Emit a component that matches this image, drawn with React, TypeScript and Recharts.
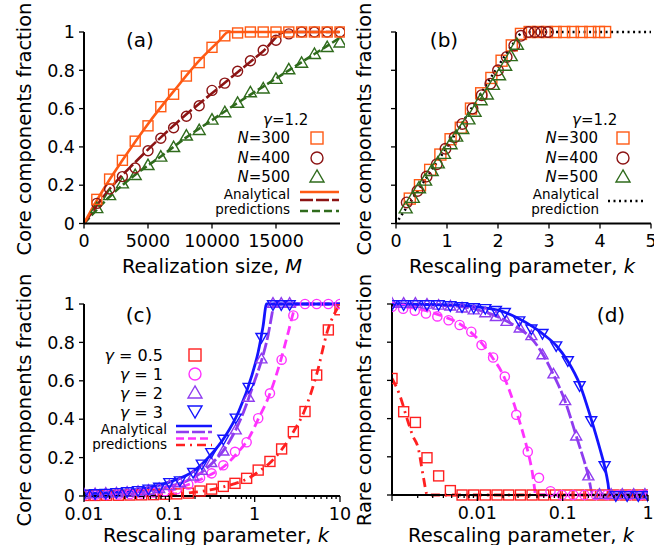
import React from 'react'
import { ComposedChart, Scatter, Line, XAxis, YAxis } from 'recharts'

const FONT = '"DejaVu Sans", sans-serif'

const C300 = '#ff5a14'
const C400 = '#8c1414'
const C500 = '#2f6b1c'
const CG05 = '#ff2020'
const CG1 = '#ff33ff'
const CG2 = '#8f3cf0'
const CG3 = '#1414ff'

// ---- panel (a): fraction vs realization size M
const M_SIZES = [1000, 2000, 3000, 4000, 5000, 6000, 7000, 8000, 9000, 10000, 11000, 12000, 13000, 14000, 15000, 16000, 17000, 18000, 19000, 20000]
const A_N300 = [0.126, 0.232, 0.33, 0.43, 0.51, 0.61, 0.675, 0.77, 0.84, 0.92, 0.98, 0.995, 1, 1, 1, 1, 1, 1, 1, 1]
const A_N400 = [0.105, 0.18, 0.245, 0.29, 0.38, 0.445, 0.5, 0.56, 0.615, 0.695, 0.733, 0.795, 0.85, 0.905, 0.957, 0.99, 1, 1, 1, 1]
const A_N500 = [0.075, 0.143, 0.204, 0.248, 0.3, 0.344, 0.394, 0.454, 0.483, 0.537, 0.576, 0.625, 0.68, 0.7, 0.75, 0.8, 0.834, 0.88, 0.916, 0.94]
const A_L300_M = [0, 1000, 2000, 3000, 5000, 7000, 9000, 10500, 11300, 20000]
const A_L300_V = [0, 0.12, 0.23, 0.33, 0.52, 0.69, 0.85, 0.95, 1, 1]
const A_L400_M = [0, 2000, 4000, 6000, 8000, 10000, 12000, 14000, 15700, 20000]
const A_L400_V = [0, 0.18, 0.32, 0.45, 0.57, 0.68, 0.79, 0.9, 1, 1]
const A_L500_M = [0, 2000, 4000, 6000, 8000, 10000, 12000, 14000, 16000, 18000, 20000]
const A_L500_V = [0, 0.14, 0.255, 0.35, 0.45, 0.54, 0.63, 0.715, 0.8, 0.885, 0.97]

// ---- panel (b): fraction vs rescaling parameter k
const B_N300_K = [0.27, 0.47, 0.67, 0.87, 1.07, 1.27, 1.47, 1.67, 1.87, 2.07, 2.27, 2.45, 2.62, 2.79, 2.96, 3.13, 3.3, 3.47, 3.64, 3.81, 3.98, 4.1]
const B_N300_V = [0.13, 0.2, 0.28, 0.36, 0.44, 0.5, 0.6, 0.68, 0.76, 0.85, 0.93, 0.99, 1, 1, 1, 1, 1, 1, 1, 1, 1, 1]
const B_N400_K = [0.21, 0.42, 0.6, 0.8, 0.97, 1.15, 1.3, 1.5, 1.68, 1.85, 2.0, 2.17, 2.32, 2.45, 2.6, 2.72, 2.85, 2.98]
const B_N400_V = [0.11, 0.17, 0.245, 0.31, 0.39, 0.45, 0.52, 0.6, 0.67, 0.73, 0.8, 0.87, 0.93, 0.98, 1, 1, 1, 1]
const B_N500_K = [0.19, 0.33, 0.45, 0.57, 0.7, 0.82, 0.94, 1.07, 1.18, 1.3, 1.42, 1.54, 1.66, 1.78, 1.9, 2.02, 2.14, 2.25, 2.37]
const B_N500_V = [0.075, 0.13, 0.18, 0.22, 0.27, 0.31, 0.36, 0.41, 0.45, 0.49, 0.54, 0.58, 0.64, 0.67, 0.72, 0.77, 0.82, 0.87, 0.93]
const B_PRED_K = [0.05, 0.5, 1, 1.5, 2, 2.3, 2.5, 5]
const B_PRED_V = [0.02, 0.2, 0.4, 0.61, 0.82, 0.94, 1, 1]

// ---- panel (c): core fraction vs k, log axis
const C_K = [0.01, 0.0135, 0.0184, 0.0253, 0.0346, 0.0474, 0.065, 0.089, 0.122, 0.167, 0.229, 0.313, 0.429, 0.588, 0.805, 1.1, 1.51, 2.07, 2.84, 3.89, 5.33, 7.3, 10]
const C_G05 = [0.003, 0.003, 0.004, 0.004, 0.005, 0.006, 0.007, 0.009, 0.011, 0.015, 0.026, 0.036, 0.05, 0.066, 0.092, 0.135, 0.18, 0.245, 0.335, 0.44, 0.63, 0.865, 0.97]
const C_G1 = [0.004, 0.005, 0.006, 0.008, 0.01, 0.013, 0.018, 0.025, 0.035, 0.06, 0.095, 0.118, 0.16, 0.23, 0.28, 0.405, 0.535, 0.71, 0.94, 1, 1, 1, 1]
const C_K23 = [0.01, 0.0135, 0.018, 0.024, 0.032, 0.043, 0.057, 0.076, 0.1, 0.133, 0.19, 0.24, 0.31, 0.43, 0.6, 0.85, 1.2, 1.64, 2.05, 2.57]
const C_G2 = [0.006, 0.008, 0.01, 0.012, 0.016, 0.02, 0.026, 0.035, 0.05, 0.065, 0.1, 0.13, 0.17, 0.23, 0.34, 0.51, 0.71, 1, 1, 1]
const C_G3 = [0.014, 0.016, 0.018, 0.022, 0.026, 0.032, 0.04, 0.05, 0.074, 0.083, 0.127, 0.17, 0.23, 0.3, 0.41, 0.57, 0.83, 1, 1, 1]
const C_L05_K = [0.01, 0.05, 0.1, 0.2, 0.3, 0.45, 0.6, 0.84, 1.14, 1.57, 2.1, 2.85, 3.8, 5.3, 7.2, 10]
const C_L05_V = [0.002, 0.005, 0.008, 0.02, 0.032, 0.05, 0.066, 0.092, 0.13, 0.18, 0.245, 0.335, 0.44, 0.63, 0.865, 1]
const C_L1_K = [0.01, 0.03, 0.1, 0.18, 0.3, 0.47, 0.6, 0.85, 1.1, 1.5, 2, 2.5, 2.9, 3.05, 10]
const C_L1_V = [0.004, 0.01, 0.03, 0.065, 0.11, 0.165, 0.215, 0.3, 0.4, 0.53, 0.7, 0.86, 0.97, 1, 1]
const C_L2_K = [0.01, 0.03, 0.1, 0.2, 0.3, 0.5, 0.7, 1, 1.25, 1.44, 1.6, 1.68, 10]
const C_L2_V = [0.006, 0.016, 0.05, 0.1, 0.16, 0.28, 0.41, 0.6, 0.73, 0.84, 0.95, 1, 1]
const C_L3_K = [0.01, 0.03, 0.1, 0.2, 0.3, 0.45, 0.65, 0.93, 1.1, 1.25, 1.38, 10]
const C_L3_V = [0.012, 0.025, 0.072, 0.135, 0.21, 0.31, 0.44, 0.63, 0.75, 0.88, 1, 1]

// ---- panel (d): rare fraction vs k, log axis
const D_K = [0.001, 0.00137, 0.00188, 0.00257, 0.00352, 0.00483, 0.00662, 0.00907, 0.0124, 0.017, 0.0233, 0.032, 0.0438, 0.06, 0.0822, 0.113, 0.155, 0.212, 0.291, 0.398, 0.546, 0.748, 1]
const D_G05 = [0.61, 0.436, 0.38, 0.195, 0.1, 0.023, 0, 0, 0, 0, 0, 0, 0, 0, 0, 0, 0, 0, 0, 0, 0, 0, 0]
const D_K1 = [0.001, 0.00135, 0.00185, 0.0025, 0.0034, 0.0046, 0.0062, 0.0085, 0.0112, 0.0153, 0.021, 0.0286, 0.039, 0.0528, 0.072, 0.098, 0.133, 0.18, 0.245, 0.33, 0.45, 0.61, 0.83, 1]
const D_G1 = [0.985, 0.975, 0.965, 0.95, 0.935, 0.915, 0.89, 0.855, 0.785, 0.72, 0.62, 0.42, 0.227, 0.09, 0.02, 0, 0, 0, 0, 0, 0, 0, 0, 0]
const D_K2 = [0.001, 0.00137, 0.00188, 0.00257, 0.00352, 0.00483, 0.00662, 0.00907, 0.0124, 0.0165, 0.022, 0.0314, 0.043, 0.058, 0.078, 0.107, 0.144, 0.2, 0.27, 0.37, 0.5, 0.68, 0.92]
const D_G2 = [1, 1, 1, 0.995, 0.99, 0.985, 0.975, 0.965, 0.95, 0.93, 0.905, 0.87, 0.83, 0.73, 0.63, 0.49, 0.305, 0.096, 0, 0, 0, 0, 0]
const D_K3 = [0.001, 0.00137, 0.00188, 0.00257, 0.00352, 0.00483, 0.00662, 0.00907, 0.0124, 0.0165, 0.021, 0.031, 0.043, 0.058, 0.084, 0.115, 0.158, 0.216, 0.31, 0.42, 0.57, 0.77, 1]
const D_G3 = [1, 1, 1, 1, 1, 0.995, 0.99, 0.985, 0.98, 0.97, 0.96, 0.916, 0.873, 0.85, 0.785, 0.707, 0.576, 0.393, 0.157, 0, 0, 0, 0]
const D_L05_K = [0.001, 0.00124, 0.0015, 0.00175, 0.00203, 0.00232, 0.0026, 1]
const D_L05_V = [0.61, 0.52, 0.4, 0.31, 0.245, 0.1, 0, 0]
const D_L1_K = [0.001, 0.002, 0.004, 0.006, 0.008, 0.011, 0.015, 0.02, 0.025, 0.03, 0.035, 0.04, 0.044, 0.047, 0.048, 1]
const D_L1_V = [0.99, 0.975, 0.935, 0.9, 0.86, 0.8, 0.72, 0.63, 0.52, 0.41, 0.31, 0.21, 0.12, 0.03, 0, 0]
const D_L2_K = [0.001, 0.005, 0.01, 0.02, 0.03, 0.043, 0.058, 0.078, 0.107, 0.144, 0.2, 0.226, 1]
const D_L2_V = [1, 0.99, 0.97, 0.92, 0.875, 0.82, 0.74, 0.63, 0.49, 0.31, 0.1, 0, 0]
const D_L3_K = [0.001, 0.005, 0.01, 0.02, 0.03, 0.045, 0.06, 0.085, 0.115, 0.16, 0.215, 0.27, 0.31, 0.34, 0.355, 1]
const D_L3_V = [1, 0.995, 0.985, 0.96, 0.925, 0.88, 0.84, 0.78, 0.7, 0.575, 0.4, 0.25, 0.15, 0.06, 0, 0]

const Y_TICKS = [0, 0.2, 0.4, 0.6, 0.8, 1]

const zip = (xs: number[], ys: number[]) => xs.map((x, i) => ({ x, y: ys[i] }))

function logTicks(lo: number, hi: number) {
  const out: number[] = []
  for (let d = lo; d < hi * 0.99; d *= 10) {
    for (let m = 1; m < 10; m++) out.push(+(d * m).toPrecision(3))
  }
  out.push(hi)
  return out
}

// markers
const square = (c: string, s = 10) => (p: any) => (
  <rect x={p.cx - s / 2} y={p.cy - s / 2} width={s} height={s} fill="none" stroke={c} strokeWidth={1.4} />
)
const circle = (c: string, r = 4.6) => (p: any) => (
  <circle cx={p.cx} cy={p.cy} r={r} fill="none" stroke={c} strokeWidth={1.4} />
)
const triUp = (c: string, s = 11) => (p: any) => {
  const h = s * 0.87
  return <polygon points={`${p.cx},${p.cy - (h * 2) / 3} ${p.cx - s / 2},${p.cy + h / 3} ${p.cx + s / 2},${p.cy + h / 3}`} fill="none" stroke={c} strokeWidth={1.4} />
}
const triDown = (c: string, s = 11) => (p: any) => {
  const h = s * 0.87
  return <polygon points={`${p.cx},${p.cy + (h * 2) / 3} ${p.cx - s / 2},${p.cy - h / 3} ${p.cx + s / 2},${p.cy - h / 3}`} fill="none" stroke={c} strokeWidth={1.4} />
}

function LogTick(props: any) {
  const { x, y, payload, majors, hideLabel } = props
  const v = payload.value
  const ay = y - 8
  const major = majors.includes(v)
  return (
    <g>
      <line x1={x} x2={x} y1={ay} y2={ay + (major ? 6 : 3)} stroke="#000" strokeWidth={1.3} />
      {major && !hideLabel.includes(v) && (
        <text x={x} y={ay + 11} dy="0.75em" textAnchor="middle" fontSize={17.5} fill="#000" fontFamily={FONT}>
          {String(v)}
        </text>
      )}
    </g>
  )
}

const axisLine = { stroke: '#000', strokeWidth: 2 }
const tickLine = { stroke: '#000', strokeWidth: 1.3 }
const tickFont = { fontSize: 17.5, fill: '#000', fontFamily: FONT }

export default function App() {
  const cTicks = logTicks(0.01, 10)
  const dTicks = logTicks(0.001, 1)
  const box = (left: number, top: number): React.CSSProperties => ({ position: 'absolute', left, top })
  return (
    <div style={{ position: 'absolute', left: 0, top: 0, width: 654, height: 545, background: '#fff', fontFamily: FONT, overflow: 'hidden' }}>
      {/* (a) */}
      <div style={box(0, 0)}>
        <ComposedChart width={345} height={272} margin={{ top: 32, right: 5, bottom: 18.5, left: 0 }}>
          <XAxis dataKey="x" type="number" domain={[0, 20000]} ticks={[0, 5000, 10000, 15000]} interval={0}
            axisLine={axisLine} tickLine={tickLine} tickSize={5} tickMargin={6} tick={tickFont} height={30} />
          <YAxis dataKey="y" type="number" domain={[0, 1]} ticks={Y_TICKS} interval={0} width={84}
            axisLine={axisLine} tickLine={tickLine} tickSize={5} tickMargin={4} tick={tickFont} />
          <Scatter data={zip(M_SIZES, A_N500)} shape={triUp(C500, 12)} isAnimationActive={false} />
          <Scatter data={zip(M_SIZES, A_N400)} shape={circle(C400, 5)} isAnimationActive={false} />
          <Scatter data={zip(M_SIZES, A_N300)} shape={square(C300, 10)} isAnimationActive={false} />
          <Line data={zip(A_L500_M, A_L500_V)} dataKey="y" type="monotone" stroke={C500} strokeWidth={2.6} strokeDasharray="8 3" dot={false} isAnimationActive={false} />
          <Line data={zip(A_L400_M, A_L400_V)} dataKey="y" type="monotone" stroke={C400} strokeWidth={2.6} strokeDasharray="13 3" dot={false} isAnimationActive={false} />
          <Line data={zip(A_L300_M, A_L300_V)} dataKey="y" type="monotone" stroke={C300} strokeWidth={2.6} dot={false} isAnimationActive={false} />
        </ComposedChart>
      </div>
      {/* (b) */}
      <div style={box(340, 0)}>
        <ComposedChart width={314} height={272} margin={{ top: 32, right: 3, bottom: 18.5, left: 0 }}>
          <XAxis dataKey="x" type="number" domain={[0, 5]} ticks={[0, 1, 2, 3, 4, 5]} interval={0}
            axisLine={axisLine} tickLine={tickLine} tickSize={5} tickMargin={6} tick={tickFont} height={30} />
          <YAxis dataKey="y" type="number" domain={[0, 1]} ticks={Y_TICKS} interval={0} width={56}
            axisLine={axisLine} tickLine={tickLine} tickSize={5} tickMargin={3} tick={tickFont} tickFormatter={() => ''} />
          <Scatter data={zip(B_N300_K, B_N300_V)} shape={square(C300, 11)} isAnimationActive={false} />
          <Scatter data={zip(B_N400_K, B_N400_V)} shape={circle(C400, 5.3)} isAnimationActive={false} />
          <Scatter data={zip(B_N500_K, B_N500_V)} shape={triUp(C500, 13)} isAnimationActive={false} />
          <Line data={zip(B_PRED_K, B_PRED_V)} dataKey="y" type="monotone" stroke="#000" strokeWidth={2.5} strokeDasharray="2 3.5" dot={false} isAnimationActive={false} />
        </ComposedChart>
      </div>
      {/* (c) */}
      <div style={box(0, 272)}>
        <ComposedChart width={360} height={273} margin={{ top: 32, right: 20, bottom: 19, left: 0 }}>
          <XAxis dataKey="x" type="number" scale="log" domain={[0.01, 10]} allowDataOverflow ticks={cTicks} interval={0}
            axisLine={axisLine} tickLine={false} tickSize={6} tickMargin={2} height={30}
            tick={<LogTick majors={[0.01, 0.1, 1, 10]} hideLabel={[]} />} />
          <YAxis dataKey="y" type="number" domain={[0, 1]} ticks={Y_TICKS} interval={0} width={84}
            axisLine={axisLine} tickLine={tickLine} tickSize={5} tickMargin={4} tick={tickFont} />
          <Scatter data={zip(C_K, C_G05)} shape={square(CG05, 10)} isAnimationActive={false} />
          <Scatter data={zip(C_K, C_G1)} shape={circle(CG1, 4.6)} isAnimationActive={false} />
          <Scatter data={zip(C_K23, C_G2)} shape={triUp(CG2, 11)} isAnimationActive={false} />
          <Scatter data={zip(C_K23, C_G3)} shape={triDown(CG3, 11)} isAnimationActive={false} />
          <Line data={zip(C_L05_K, C_L05_V)} dataKey="y" type="monotone" stroke={CG05} strokeWidth={2.8} strokeDasharray="9 5 2 5" dot={false} isAnimationActive={false} />
          <Line data={zip(C_L1_K, C_L1_V)} dataKey="y" type="monotone" stroke={CG1} strokeWidth={2.8} strokeDasharray="9 5" dot={false} isAnimationActive={false} />
          <Line data={zip(C_L2_K, C_L2_V)} dataKey="y" type="monotone" stroke={CG2} strokeWidth={2.8} strokeDasharray="13 3" dot={false} isAnimationActive={false} />
          <Line data={zip(C_L3_K, C_L3_V)} dataKey="y" type="monotone" stroke={CG3} strokeWidth={2.8} dot={false} isAnimationActive={false} />
        </ComposedChart>
      </div>
      {/* (d) */}
      <div style={box(340, 272)}>
        <ComposedChart width={314} height={273} margin={{ top: 32, right: 6, bottom: 20, left: 0 }}>
          <XAxis dataKey="x" type="number" scale="log" domain={[0.001, 1]} allowDataOverflow ticks={dTicks} interval={0}
            axisLine={axisLine} tickLine={false} tickSize={6} tickMargin={2} height={30}
            tick={<LogTick majors={[0.001, 0.01, 0.1, 1]} hideLabel={[0.001]} />} />
          <YAxis dataKey="y" type="number" domain={[0, 1]} ticks={Y_TICKS} interval={0} width={52}
            axisLine={axisLine} tickLine={tickLine} tickSize={5} tickMargin={3} tick={tickFont} tickFormatter={() => ''} />
          <Scatter data={zip(D_K, D_G05)} shape={square(CG05, 10)} isAnimationActive={false} />
          <Scatter data={zip(D_K1, D_G1)} shape={circle(CG1, 4.6)} isAnimationActive={false} />
          <Scatter data={zip(D_K2, D_G2)} shape={triUp(CG2, 11)} isAnimationActive={false} />
          <Scatter data={zip(D_K3, D_G3)} shape={triDown(CG3, 11)} isAnimationActive={false} />
          <Line data={zip(D_L05_K, D_L05_V)} dataKey="y" type="monotone" stroke={CG05} strokeWidth={2.8} strokeDasharray="9 5 2 5" dot={false} isAnimationActive={false} />
          <Line data={zip(D_L1_K, D_L1_V)} dataKey="y" type="monotone" stroke={CG1} strokeWidth={2.8} strokeDasharray="9 5" dot={false} isAnimationActive={false} />
          <Line data={zip(D_L2_K, D_L2_V)} dataKey="y" type="monotone" stroke={CG2} strokeWidth={2.8} strokeDasharray="13 3" dot={false} isAnimationActive={false} />
          <Line data={zip(D_L3_K, D_L3_V)} dataKey="y" type="monotone" stroke={CG3} strokeWidth={2.8} dot={false} isAnimationActive={false} />
        </ComposedChart>
      </div>

      {/* titles, panel letters and legends */}
      <svg width={654} height={545} style={{ position: 'absolute', left: 0, top: 0, pointerEvents: 'none' }} fontFamily={FONT} fill="#000">
        <g fontSize={19.5} textAnchor="middle" dominantBaseline="central">
          <text transform="translate(24,129) rotate(-90)">Core components fraction</text>
          <text transform="translate(364,129) rotate(-90)">Core components fraction</text>
          <text transform="translate(24,400) rotate(-90)">Core components fraction</text>
          <text transform="translate(364,400) rotate(-90)">Rare components fraction</text>
          <text x={212} y={266}>Realization size, <tspan fontStyle="italic">M</tspan></text>
          <text x={522} y={266}>Rescaling parameter, <tspan fontStyle="italic">k</tspan></text>
          <text x={216} y={535}>Rescaling parameter, <tspan fontStyle="italic">k</tspan></text>
          <text x={521} y={535}>Rescaling parameter, <tspan fontStyle="italic">k</tspan></text>
        </g>
        <g fontSize={20} textAnchor="middle" dominantBaseline="central">
          <text x={140} y={40}>(a)</text>
          <text x={444} y={40}>(b)</text>
          <text x={139} y={315}>(c)</text>
          <text x={611} y={315}>(d)</text>
        </g>

        {/* legend (a) */}
        <g fontSize={15} dominantBaseline="central">
          <text x={263} y={120}><tspan fontStyle="italic">γ</tspan>=1.2</text>
          <text x={290} y={138} textAnchor="end"><tspan fontStyle="italic">N</tspan>=300</text>
          <text x={290} y={158} textAnchor="end"><tspan fontStyle="italic">N</tspan>=400</text>
          <text x={290} y={177} textAnchor="end"><tspan fontStyle="italic">N</tspan>=500</text>
        </g>
        <g fontSize={13.5} dominantBaseline="central" textAnchor="end">
          <text x={290} y={194}>Analytical</text>
          <text x={290} y={208.5}>predictions</text>
        </g>
        <rect x={311} y={132} width={12} height={12} fill="none" stroke={C300} strokeWidth={1.4} />
        <circle cx={317} cy={158} r={6} fill="none" stroke={C400} strokeWidth={1.4} />
        <polygon points="317,170 310,182 324,182" fill="none" stroke={C500} strokeWidth={1.4} />
        <line x1={300} x2={339} y1={192} y2={192} stroke={C300} strokeWidth={2.6} />
        <line x1={300} x2={339} y1={200} y2={200} stroke={C400} strokeWidth={2.6} strokeDasharray="13 3" />
        <line x1={300} x2={339} y1={211} y2={211} stroke={C500} strokeWidth={2.6} strokeDasharray="8 4" />

        {/* legend (b) */}
        <g fontSize={15} dominantBaseline="central">
          <text x={572} y={120}><tspan fontStyle="italic">γ</tspan>=1.2</text>
          <text x={598} y={138} textAnchor="end"><tspan fontStyle="italic">N</tspan>=300</text>
          <text x={598} y={158} textAnchor="end"><tspan fontStyle="italic">N</tspan>=400</text>
          <text x={598} y={177} textAnchor="end"><tspan fontStyle="italic">N</tspan>=500</text>
        </g>
        <g fontSize={13.5} dominantBaseline="central" textAnchor="end">
          <text x={599} y={194}>Analytical</text>
          <text x={599} y={208.5}>prediction</text>
        </g>
        <rect x={617} y={132} width={12} height={12} fill="none" stroke={C300} strokeWidth={1.4} />
        <circle cx={623} cy={158} r={6} fill="none" stroke={C400} strokeWidth={1.4} />
        <polygon points="623,170 616,182 630,182" fill="none" stroke={C500} strokeWidth={1.4} />
        <line x1={608} x2={644} y1={201} y2={201} stroke="#000" strokeWidth={2.5} strokeDasharray="2 3.5" />

        {/* legend (c) */}
        <g fontSize={16} dominantBaseline="central" textAnchor="end">
          <text x={163} y={355}><tspan fontStyle="italic">γ</tspan> = 0.5</text>
          <text x={163} y={374}><tspan fontStyle="italic">γ</tspan> = 1</text>
          <text x={163} y={393}><tspan fontStyle="italic">γ</tspan> = 2</text>
          <text x={163} y={412}><tspan fontStyle="italic">γ</tspan> = 3</text>
        </g>
        <g fontSize={13.5} dominantBaseline="central" textAnchor="end">
          <text x={167} y={429}>Analytical</text>
          <text x={167} y={443.5}>predictions</text>
        </g>
        <rect x={189} y={349} width={12} height={12} fill="none" stroke={CG05} strokeWidth={1.4} />
        <circle cx={195} cy={374} r={6} fill="none" stroke={CG1} strokeWidth={1.4} />
        <polygon points="195,386 188,398 202,398" fill="none" stroke={CG2} strokeWidth={1.4} />
        <polygon points="195,418 188,406 202,406" fill="none" stroke={CG3} strokeWidth={1.4} />
        <line x1={176} x2={212} y1={426} y2={426} stroke={CG3} strokeWidth={2.6} />
        <line x1={176} x2={212} y1={432} y2={432} stroke={CG2} strokeWidth={2.6} strokeDasharray="13 3" />
        <line x1={176} x2={212} y1={438.5} y2={438.5} stroke={CG1} strokeWidth={2.6} strokeDasharray="8 4" />
        <line x1={176} x2={212} y1={445} y2={445} stroke={CG05} strokeWidth={2.6} strokeDasharray="9 5 2 5" />
      </svg>
    </div>
  )
}
